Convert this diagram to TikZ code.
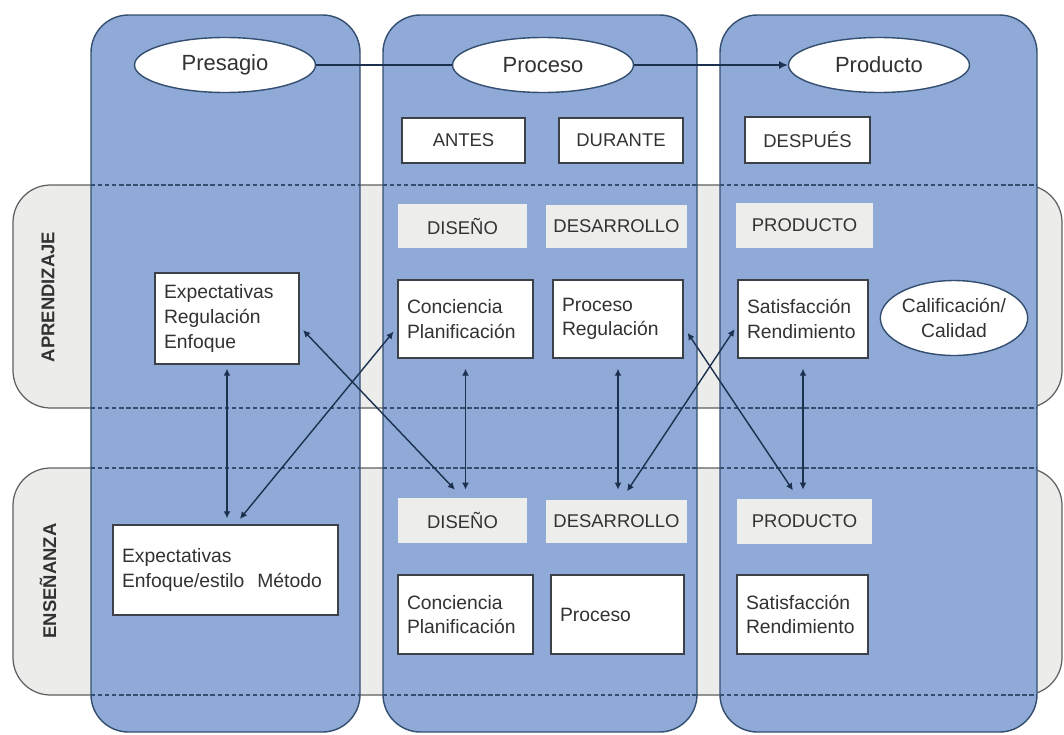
\documentclass[tikz,border=0pt]{standalone}
\usepackage{fontspec}
\setmainfont{Liberation Sans}
\usetikzlibrary{shapes.geometric,arrows.meta}

\definecolor{colblue}{RGB}{143,170,214}
\definecolor{colline}{RGB}{52,78,112}
\definecolor{rowgray}{RGB}{236,236,234}
\definecolor{rowline}{RGB}{95,95,95}
\definecolor{boxgray}{RGB}{237,237,236}
\definecolor{boxline}{RGB}{60,64,72}
\definecolor{linkblue}{RGB}{28,48,80}
\definecolor{txt}{RGB}{50,50,50}

\tikzset{
  colbox/.style={draw=colline, fill=colblue, line width=0.8pt, rounded corners=0.75cm},
  rowbox/.style={draw=rowline, fill=rowgray, line width=0.7pt, rounded corners=0.75cm},
  sepline/.style={draw=colline, line width=0.7pt, dash pattern=on 2.5pt off 1.5pt},
  headell/.style={ellipse, draw=colline, fill=white, line width=0.8pt, inner sep=0pt,
    minimum width=3.62cm, minimum height=1.1cm, text=txt, font=\fontsize{12.5}{14}\selectfont},
  whitebox/.style={rectangle, draw=boxline, fill=white, line width=0.8pt, text=txt,
    font=\fontsize{11}{14}\selectfont, inner xsep=0.18cm, align=left},
  stagebox/.style={rectangle, draw=boxline, fill=white, line width=0.8pt, text=txt,
    font=\fontsize{10.5}{13}\selectfont, inner sep=0pt},
  graybox/.style={rectangle, fill=boxgray, text=txt, font=\fontsize{10.5}{13}\selectfont, inner sep=0pt},
  rowlabel/.style={rotate=90, text=txt, font=\fontsize{10.5}{13}\selectfont\bfseries},
  link/.style={{Latex[length=4pt,width=4pt]}-{Latex[length=4pt,width=4pt]}, draw=linkblue, line width=0.8pt}
}

\begin{document}
\begin{tikzpicture}[x=0.02cm, y=-0.02cm]
    \useasboundingbox (0,0) rectangle (1064,734);

    % rows and columns
    \draw[rowbox] (13,185) rectangle (1062,408);
    \draw[rowbox] (13,468) rectangle (1062,695);
    \draw[colbox] (91,15) rectangle (360,732);
    \draw[colbox] (383,15) rectangle (697,732);
    \draw[colbox] (720,15) rectangle (1037,732);
    \foreach \xa/\xb in {91/360,383/697,720/1037}
        \foreach \yy in {185,408,468,695}
            \draw[sepline] (\xa,\yy) -- (\xb,\yy);

    \node[rowlabel] (apr) at (48,297) {APRENDIZAJE};
    \node[rowlabel] (ens) at (48,581) {ENSEÑANZA};

    % headings
    \node[headell] (pres) at (225,65) {Presagio};
    \node[headell] (proc) at (543,65) {Proceso};
    \node[headell] (prod) at (879,65) {Producto};

    \node[stagebox, minimum width=2.46cm, minimum height=0.9cm] (antes) at (463.5,140.5) {ANTES};
    \node[stagebox, minimum width=2.48cm, minimum height=0.9cm] (durante) at (621,140.5) {DURANTE};
    \node[stagebox, minimum width=2.5cm, minimum height=0.92cm] (despues) at (807.5,140) {DESPUÉS};

    % aprendizaje
    \node[graybox, minimum width=2.58cm, minimum height=0.88cm] (disA) at (462.5,226) {DISEÑO};
    \node[graybox, minimum width=2.82cm, minimum height=0.86cm] (desA) at (616.5,226.5) {DESARROLLO};
    \node[graybox, minimum width=2.74cm, minimum height=0.9cm] (prdA) at (804.5,225.5) {PRODUCTO};
    \node[whitebox, text width=2.52cm, minimum height=1.82cm] (expA) at (227,318.5) {Expectativas\\Regulación\\Enfoque};
    \node[whitebox, text width=2.34cm, minimum height=1.56cm] (concA) at (465.5,319) {Conciencia\\Planificación};
    \node[whitebox, text width=2.24cm, minimum height=1.56cm] (regA) at (618,319) {Proceso\\Regulación};
    \node[whitebox, text width=2.24cm, minimum height=1.56cm] (satA) at (803,319) {Satisfacción\\Rendimiento};
    \node[headell, minimum width=2.92cm, minimum height=1.5cm, align=center,
        font=\fontsize{11}{14}\selectfont] (calif) at (954,318) {Calificación/\\Calidad};

    % ensenanza
    \node[graybox, minimum width=2.58cm, minimum height=0.9cm] (disE) at (462.5,520.5) {DISEÑO};
    \node[graybox, minimum width=2.82cm, minimum height=0.86cm] (desE) at (616.5,521.5) {DESARROLLO};
    \node[graybox, minimum width=2.7cm, minimum height=0.9cm] (prdE) at (804.5,521.5) {PRODUCTO};
    \node[whitebox, text width=4.14cm, minimum height=1.8cm] (expE) at (225.5,570) {Expectativas\\Enfoque/estilo\ \ Método};
    \node[whitebox, text width=2.34cm, minimum height=1.58cm] (concE) at (465.5,614.5) {Conciencia\\Planificación};
    \node[whitebox, text width=2.3cm, minimum height=1.58cm] (procE) at (617.5,614.5) {Proceso};
    \node[whitebox, text width=2.26cm, minimum height=1.58cm] (satE) at (802.5,614.5) {Satisfacción\\Rendimiento};

    % links
    \draw[linkblue, line width=0.8pt] (pres) -- (proc);
    \draw[linkblue, line width=0.8pt, -{Latex[length=5pt,width=4.5pt]}] (proc) -- (prod);

    \draw[link, shorten <=0.08cm, shorten >=0.12cm] (expA.south) -- (expA.south |- expE.north);
    \draw[link, shorten <=0.12cm, shorten >=0.14cm] ([yshift=-0.16cm]concA.west) -- ([xshift=0.2cm]expE.north);
    \draw[link, shorten <=0.1cm, shorten >=0.22cm] ([yshift=-0.16cm]expA.east) -- (disE.north);
    \draw[link, shorten <=0.2cm, shorten >=0.16cm] (concA.south) -- (concA.south |- disE.north);
    \draw[link, shorten <=0.2cm, shorten >=0.2cm] (regA.south) -- (regA.south |- desE.north);
    \draw[link, shorten <=0.1cm, shorten >=0.2cm] ([yshift=-0.12cm]satA.west) -- ([xshift=0.1cm]desE.north);
    \draw[link, shorten <=0.14cm, shorten >=0.2cm] ([yshift=-0.16cm]regA.east) -- ([xshift=-0.12cm]prdE.north);
    \draw[link, shorten <=0.2cm, shorten >=0.18cm] (satA.south) -- (satA.south |- prdE.north);
\end{tikzpicture}
\end{document}
